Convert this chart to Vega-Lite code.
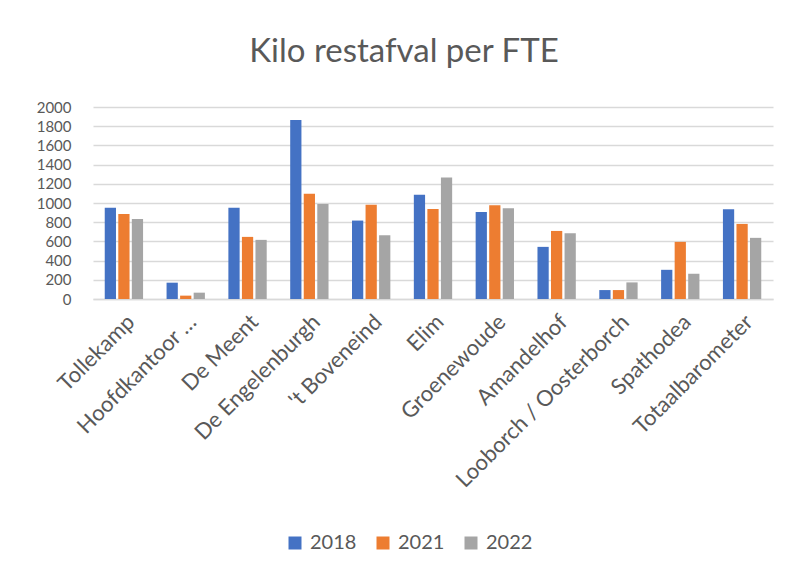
{
  "$schema": "https://vega.github.io/schema/vega-lite/v6.json",
  "width": 680,
  "height": 192,
  "autosize": {"type": "none"},
  "padding": {"left": 93, "top": 107, "right": 17, "bottom": 276},
  "background": "white",
  "title": {
    "text": "Kilo restafval per FTE",
    "fontSize": 33,
    "font": "Lato",
    "fontWeight": "normal",
    "color": "#595959",
    "anchor": "middle",
    "dx": -29,
    "offset": 31
  },
  "data": {
    "values": [
      {"locatie": "Tollekamp", "jaar": "2018", "kilo": 951},
      {"locatie": "Tollekamp", "jaar": "2021", "kilo": 886},
      {"locatie": "Tollekamp", "jaar": "2022", "kilo": 834},
      {"locatie": "Hoofdkantoor …", "jaar": "2018", "kilo": 170},
      {"locatie": "Hoofdkantoor …", "jaar": "2021", "kilo": 35},
      {"locatie": "Hoofdkantoor …", "jaar": "2022", "kilo": 66},
      {"locatie": "De Meent", "jaar": "2018", "kilo": 951},
      {"locatie": "De Meent", "jaar": "2021", "kilo": 647},
      {"locatie": "De Meent", "jaar": "2022", "kilo": 616},
      {"locatie": "De Engelenburgh", "jaar": "2018", "kilo": 1865},
      {"locatie": "De Engelenburgh", "jaar": "2021", "kilo": 1097},
      {"locatie": "De Engelenburgh", "jaar": "2022", "kilo": 990},
      {"locatie": "'t Boveneind", "jaar": "2018", "kilo": 817},
      {"locatie": "'t Boveneind", "jaar": "2021", "kilo": 983},
      {"locatie": "'t Boveneind", "jaar": "2022", "kilo": 664},
      {"locatie": "Elim", "jaar": "2018", "kilo": 1087},
      {"locatie": "Elim", "jaar": "2021", "kilo": 938},
      {"locatie": "Elim", "jaar": "2022", "kilo": 1266},
      {"locatie": "Groenewoude", "jaar": "2018", "kilo": 907},
      {"locatie": "Groenewoude", "jaar": "2021", "kilo": 976},
      {"locatie": "Groenewoude", "jaar": "2022", "kilo": 945},
      {"locatie": "Amandelhof", "jaar": "2018", "kilo": 543},
      {"locatie": "Amandelhof", "jaar": "2021", "kilo": 709},
      {"locatie": "Amandelhof", "jaar": "2022", "kilo": 685},
      {"locatie": "Looborch / Oosterborch", "jaar": "2018", "kilo": 93},
      {"locatie": "Looborch / Oosterborch", "jaar": "2021", "kilo": 93},
      {"locatie": "Looborch / Oosterborch", "jaar": "2022", "kilo": 173},
      {"locatie": "Spathodea", "jaar": "2018", "kilo": 304},
      {"locatie": "Spathodea", "jaar": "2021", "kilo": 595},
      {"locatie": "Spathodea", "jaar": "2022", "kilo": 263},
      {"locatie": "Totaalbarometer", "jaar": "2018", "kilo": 934},
      {"locatie": "Totaalbarometer", "jaar": "2021", "kilo": 782},
      {"locatie": "Totaalbarometer", "jaar": "2022", "kilo": 637}
    ]
  },
  "mark": {"type": "bar"},
  "encoding": {
    "x": {
      "field": "locatie",
      "type": "nominal",
      "sort": null,
      "scale": {"paddingInner": 0.38, "paddingOuter": 0.19},
      "axis": {
        "title": null,
        "labelAngle": -45,
        "labelFontSize": 22,
        "labelFont": "Lato",
        "labelColor": "#595959",
        "labelLimit": 400,
        "ticks": false,
        "labelPadding": 12,
        "labelOverlap": false,
        "domainColor": "#D9D9D9",
        "domainWidth": 1.5,
        "grid": false
      }
    },
    "xOffset": {
      "field": "jaar",
      "type": "nominal",
      "scale": {"paddingInner": 0.17}
    },
    "y": {
      "field": "kilo",
      "type": "quantitative",
      "scale": {"domain": [0, 2000]},
      "axis": {
        "title": null,
        "format": "d",
        "values": [0, 200, 400, 600, 800, 1000, 1200, 1400, 1600, 1800, 2000],
        "labelFontSize": 15,
        "labelFont": "Lato",
        "labelColor": "#595959",
        "labelOverlap": false,
        "ticks": false,
        "domain": false,
        "labelPadding": 22,
        "gridColor": "#D9D9D9",
        "gridWidth": 1.5
      }
    },
    "color": {
      "field": "jaar",
      "type": "nominal",
      "scale": {"domain": ["2018", "2021", "2022"], "range": ["#4472C4", "#ED7D31", "#A5A5A5"]},
      "legend": {
        "title": null,
        "orient": "none",
        "direction": "horizontal",
        "legendX": 192,
        "legendY": 426,
        "padding": 0,
        "symbolType": "square",
        "symbolSize": 169,
        "symbolStrokeWidth": 0,
        "labelFontSize": 20,
        "labelFont": "Lato",
        "labelColor": "#595959",
        "columnPadding": 16,
        "labelOffset": 5
      }
    }
  },
  "config": {
    "view": {"stroke": null}
  }
}
